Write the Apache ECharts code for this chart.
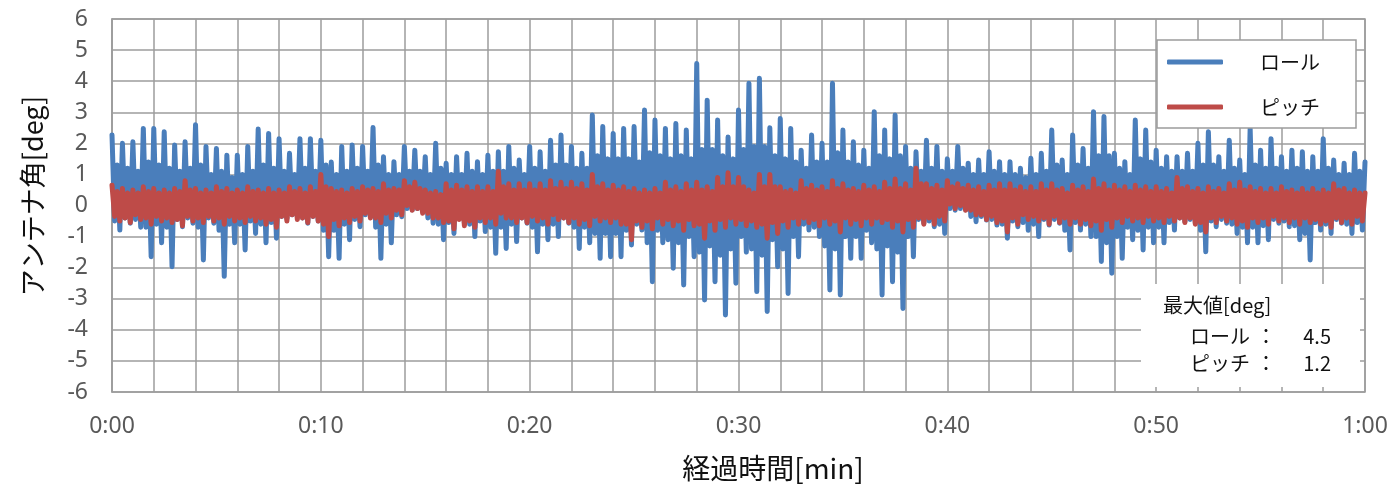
<!DOCTYPE html>
<html>
<head>
<meta charset="utf-8">
<script src="https://cdn.jsdelivr.net/npm/echarts@6/dist/echarts.min.js"></script>
<style>
html,body{margin:0;padding:0;background:#fff;}
#chart{width:1395px;height:486px;}
</style>
</head>
<body>
<div id="chart"></div>
<script>
// x axis: elapsed minutes 0..60, grid every 2 min, labels every 10 min
const xTickLabels = ['0:00','0:10','0:20','0:30','0:40','0:50','1:00'];
const seriesNames = ['ロール','ピッチ'];
const maxRoll = '4.5';
const maxPitch = '1.2';

// Readings per 0.5-minute bin:
// outer peak, inner trough, inner peak, outer trough
const rollHi = [
  2.27,2.0,2.05,2.48,2.48,2.37,1.95,2.05,2.6,1.9,1.83,1.62,1.62,1.9,2.46,2.32,2.15,1.68,2.15,2.15,
  2.1,1.4,1.9,1.95,1.9,2.51,1.57,1.41,1.9,1.78,1.57,2.0,1.36,1.57,1.68,1.41,1.62,1.73,1.9,1.46,
  1.9,1.73,2.1,2.27,1.9,1.68,2.91,2.54,2.32,2.48,2.54,3.07,2.75,2.48,2.64,2.43,4.57,3.39,2.75,2.2,
  3.07,3.93,4.09,2.5,2.8,2.48,1.78,2.27,2.0,3.93,2.43,2.05,1.78,3.02,2.43,2.91,1.9,1.73,2.1,1.9,
  1.5,1.9,1.36,1.46,1.73,1.41,1.41,1.2,1.52,1.68,2.43,1.46,2.27,1.83,3.02,2.86,1.68,1.41,2.75,2.43,
  1.78,1.57,1.57,1.68,2.0,2.37,1.57,2.1,1.46,2.48,1.78,2.15,1.57,1.78,1.73,1.57,2.15,1.46,1.36,1.68,
  1.4
];
const rollCoreHi = [
  1.3,1.2,1.1,1.4,1.3,1.2,1.1,1.2,1.3,1.0,1.1,0.9,1.0,1.1,1.3,1.2,1.1,1.0,1.2,1.1,
  1.3,1.0,1.1,1.2,1.1,1.3,1.0,1.0,1.1,1.1,1.0,1.2,1.0,1.0,1.1,1.0,1.1,1.1,1.2,1.0,
  1.2,1.1,1.3,1.3,1.2,1.2,1.6,1.5,1.5,1.5,1.4,1.7,1.6,1.5,1.6,1.5,1.8,1.8,1.6,1.5,
  1.8,1.9,1.9,1.6,1.5,1.4,1.2,1.4,1.4,1.7,1.4,1.3,1.2,1.6,1.5,1.6,1.2,1.1,1.2,1.1,
  1.1,1.2,1.0,1.0,1.1,1.0,1.0,0.9,1.0,1.1,1.3,1.0,1.3,1.2,1.6,1.6,1.2,1.0,1.5,1.4,
  1.2,1.1,1.1,1.1,1.3,1.3,1.1,1.2,1.0,1.3,1.2,1.2,1.1,1.2,1.1,1.1,1.2,1.0,1.0,1.1
];
const rollCoreLo = [
  -0.5,-0.4,-0.45,-0.7,-0.6,-0.7,-0.45,-0.4,-0.7,-0.4,-0.8,-0.6,-0.6,-0.5,-0.6,-0.55,-0.35,-0.3,-0.4,-0.35,
  -0.8,-0.8,-0.6,-0.45,-0.3,-0.7,-0.6,-0.3,-0.1,-0.1,-0.4,-0.6,-0.55,-0.4,-0.6,-0.5,-0.7,-0.7,-0.6,-0.4,
  -0.7,-0.6,-0.6,-0.4,-0.7,-0.7,-0.9,-0.9,-0.9,-0.8,-0.6,-1.2,-0.8,-1.1,-1.2,-1.0,-1.5,-1.3,-1.6,-1.4,
  -1.0,-1.4,-1.6,-1.1,-1.4,-1.0,-0.6,-0.7,-1.3,-1.4,-1.0,-1.0,-0.8,-1.4,-1.3,-1.5,-1.0,-0.45,-0.5,-0.6,
  -0.1,-0.1,-0.35,-0.35,-0.45,-0.6,-0.5,-0.55,-0.6,-0.45,-0.45,-0.8,-0.55,-0.6,-1.0,-1.2,-1.0,-0.7,-0.8,-0.7,
  -0.7,-0.55,-0.4,-0.45,-0.8,-0.5,-0.45,-0.6,-0.7,-0.7,-0.65,-0.45,-0.5,-0.65,-0.9,-0.55,-0.6,-0.45,-0.6,-0.55
];
const rollLo = [
  -0.79,-0.57,-0.7,-1.65,-1.2,-1.97,-0.68,-0.57,-1.75,-0.57,-2.28,-1.2,-1.43,-0.9,-1.2,-1.05,-0.42,-0.36,-0.57,-0.5,
  -1.65,-1.7,-1.1,-0.68,-0.36,-1.7,-1.2,-0.36,-0.14,-0.14,-0.57,-1.1,-0.9,-0.57,-1.0,-0.84,-1.54,-1.38,-1.16,-0.57,
  -1.49,-1.1,-1.0,-0.57,-1.38,-1.2,-1.7,-1.65,-1.65,-1.27,-0.79,-2.45,-1.2,-2.02,-2.56,-1.65,-3.04,-2.45,-3.52,-2.5,
  -1.5,-2.77,-3.41,-1.97,-2.83,-1.65,-0.79,-1.0,-2.72,-2.88,-1.7,-1.7,-1.2,-2.88,-2.45,-3.31,-1.65,-0.57,-0.68,-0.9,
  -0.15,-0.14,-0.52,-0.47,-0.63,-1.05,-0.68,-0.8,-1.0,-0.63,-0.57,-1.43,-0.79,-1.0,-1.8,-2.18,-1.7,-1.1,-1.43,-1.2,
  -1.2,-0.79,-0.52,-0.57,-1.49,-0.68,-0.57,-0.9,-1.2,-1.2,-1.1,-0.57,-0.68,-1.1,-1.75,-0.79,-0.9,-0.57,-0.9,-0.79
];
const pitchHi = [
  0.65,0.55,0.5,0.6,0.55,0.5,0.55,0.8,0.55,0.5,0.6,0.55,0.5,0.6,0.5,0.55,0.5,0.6,0.55,0.6,
  1.0,0.55,0.5,0.55,0.6,0.55,0.7,0.55,0.8,0.75,0.5,0.45,0.7,0.65,0.6,0.6,0.6,1.1,0.7,0.7,
  0.7,0.7,0.8,0.75,0.75,0.7,1.0,0.7,0.65,0.6,0.55,0.5,0.55,0.75,0.6,0.7,0.75,0.6,0.9,1.05,
  0.9,0.5,1.0,1.0,0.6,0.5,0.8,0.65,0.6,0.8,0.7,0.55,0.65,0.6,0.75,0.85,0.7,1.2,0.7,0.65,
  0.8,0.7,0.65,0.6,0.65,0.7,0.7,0.6,0.6,0.7,0.7,0.55,0.65,0.6,0.85,0.7,0.65,0.6,0.65,0.6,
  0.6,0.55,0.9,0.6,0.55,0.6,0.55,0.7,0.75,0.6,0.55,0.55,0.6,0.5,0.55,0.55,0.5,0.7,0.55,0.5,
  0.4
];
const pitchCoreHi = [
  0.45,0.4,0.4,0.45,0.4,0.4,0.45,0.5,0.4,0.4,0.45,0.4,0.4,0.45,0.4,0.4,0.4,0.45,0.4,0.45,
  0.6,0.45,0.4,0.45,0.5,0.45,0.5,0.5,0.6,0.55,0.4,0.35,0.5,0.5,0.45,0.45,0.45,0.6,0.5,0.5,
  0.5,0.5,0.55,0.55,0.55,0.5,0.6,0.5,0.5,0.45,0.4,0.4,0.4,0.5,0.45,0.5,0.5,0.45,0.6,0.6,
  0.6,0.4,0.6,0.6,0.45,0.4,0.55,0.5,0.45,0.55,0.5,0.45,0.5,0.45,0.55,0.55,0.5,0.7,0.55,0.5,
  0.6,0.55,0.5,0.45,0.5,0.5,0.5,0.45,0.45,0.5,0.5,0.4,0.5,0.45,0.55,0.5,0.5,0.45,0.5,0.45,
  0.45,0.4,0.55,0.45,0.4,0.45,0.4,0.5,0.5,0.45,0.4,0.4,0.45,0.4,0.4,0.4,0.4,0.5,0.4,0.4
];
const pitchCoreLo = [
  -0.35,-0.4,-0.3,-0.4,-0.35,-0.4,-0.45,-0.35,-0.4,-0.35,-0.4,-0.35,-0.4,-0.35,-0.4,-0.45,-0.35,-0.3,-0.4,-0.35,
  -0.6,-0.45,-0.4,-0.35,-0.25,-0.4,-0.25,-0.15,0.0,-0.1,-0.25,-0.4,-0.5,-0.45,-0.5,-0.4,-0.4,-0.25,-0.4,-0.4,
  -0.35,-0.4,-0.3,-0.4,-0.4,-0.45,-0.35,-0.4,-0.4,-0.6,-0.5,-0.5,-0.4,-0.45,-0.5,-0.45,-0.6,-0.5,-0.45,-0.4,
  -0.45,-0.5,-0.6,-0.55,-0.5,-0.4,-0.4,-0.45,-0.4,-0.5,-0.4,-0.45,-0.4,-0.4,-0.45,-0.5,-0.45,-0.4,-0.4,-0.35,
  0.05,0.0,-0.15,-0.3,-0.35,-0.5,-0.4,-0.3,-0.35,-0.4,-0.35,-0.4,-0.4,-0.45,-0.5,-0.45,-0.4,-0.35,-0.4,-0.35,
  -0.4,-0.35,-0.4,-0.4,-0.55,-0.4,-0.35,-0.4,-0.5,-0.4,-0.4,-0.35,-0.4,-0.4,-0.4,-0.45,-0.5,-0.4,-0.4,-0.35
];
const pitchLo = [
  -0.5,-0.55,-0.45,-0.6,-0.5,-0.55,-0.65,-0.5,-0.55,-0.5,-0.6,-0.5,-0.55,-0.5,-0.6,-0.7,-0.5,-0.45,-0.55,-0.5,
  -1.0,-0.65,-0.55,-0.5,-0.4,-0.55,-0.4,-0.3,-0.15,-0.25,-0.4,-0.55,-0.75,-0.65,-0.7,-0.55,-0.6,-0.4,-0.55,-0.55,
  -0.5,-0.6,-0.45,-0.55,-0.6,-0.65,-0.5,-0.55,-0.6,-1.1,-0.7,-0.75,-0.6,-0.65,-0.8,-0.65,-1.05,-0.8,-0.7,-0.6,
  -0.65,-0.7,-1.05,-0.9,-0.7,-0.6,-0.55,-0.65,-0.6,-0.85,-0.6,-0.65,-0.6,-0.55,-0.7,-0.85,-0.7,-0.6,-0.6,-0.5,
  -0.1,-0.15,-0.3,-0.45,-0.55,-0.85,-0.6,-0.45,-0.5,-0.6,-0.55,-0.6,-0.6,-0.65,-0.8,-0.7,-0.55,-0.5,-0.55,-0.5,
  -0.55,-0.5,-0.55,-0.6,-0.85,-0.55,-0.5,-0.6,-0.7,-0.55,-0.6,-0.5,-0.55,-0.6,-0.55,-0.6,-0.7,-0.55,-0.6,-0.5
];
const BIN = 0.5; // minutes per bin

function build(hi, coreLo, coreHi, lo) {
  const out = [];
  const q = BIN / 4;
  for (let k = 0; k < lo.length; k++) {
    const t = k * BIN;
    out.push([t, hi[k]]);
    out.push([t + q, coreLo[k]]);
    out.push([t + 2 * q, coreHi[k]]);
    out.push([t + 3 * q, lo[k]]);
  }
  out.push([lo.length * BIN, hi[lo.length]]);
  return out;
}

const BLUE = '#4A7EBB';
const RED = '#BE4B48';
const GRID = '#9c9c9c';
const TICK_FONT = 'Noto Sans';
const JP_FONT = '"Noto Sans CJK JP"';
const LINE_W = 5;

const chart = echarts.init(document.getElementById('chart'), null, {renderer: 'canvas'});
chart.setOption({
  animation: false,
  backgroundColor: '#fff',
  grid: {left: 112, right: 30, top: 19, bottom: 94, show: true, borderColor: GRID, borderWidth: 1.5, backgroundColor: '#fff'},
  xAxis: {
    type: 'value', min: 0, max: 60, interval: 2,
    axisLine: {show: true, lineStyle: {color: GRID, width: 1.5}},
    axisTick: {show: false},
    splitLine: {show: true, lineStyle: {color: GRID, width: 1.5}},
    axisLabel: {
      fontFamily: TICK_FONT, fontSize: 23, color: '#595959', margin: 23,
      formatter: v => (v % 10 === 0 ? xTickLabels[v / 10] : '')
    }
  },
  yAxis: {
    type: 'value', min: -6, max: 6, interval: 1,
    axisLine: {show: true, lineStyle: {color: GRID, width: 1.5}},
    axisTick: {show: false},
    splitLine: {show: true, lineStyle: {color: GRID, width: 1.5}},
    axisLabel: {fontFamily: TICK_FONT, fontSize: 23, color: '#595959', margin: 24}
  },
  legend: {
    orient: 'vertical', left: 1157, top: 40,
    padding: [10, 36, 9, 10], itemGap: 21,
    backgroundColor: '#fff', borderColor: GRID, borderWidth: 1.5, borderRadius: 0,
    itemWidth: 56, itemHeight: 5, icon: 'roundRect',
    textStyle: {fontFamily: JP_FONT, fontSize: 20, color: '#111', lineHeight: 24, padding: [0, 0, 0, 32]},
    data: seriesNames
  },
  series: [
    {name: seriesNames[0], type: 'line', data: build(rollHi, rollCoreLo, rollCoreHi, rollLo), showSymbol: false, symbol: 'none',
     lineStyle: {color: BLUE, width: LINE_W, cap: 'round', join: 'round'}, itemStyle: {color: BLUE}, z: 3},
    {name: seriesNames[1], type: 'line', data: build(pitchHi, pitchCoreLo, pitchCoreHi, pitchLo), showSymbol: false, symbol: 'none',
     lineStyle: {color: RED, width: LINE_W, cap: 'round', join: 'round'}, itemStyle: {color: RED}, z: 4}
  ],
  graphic: [
    {type: 'rect', shape: {x: 1141, y: 284, width: 219, height: 103}, style: {fill: '#fff'}, z: 50},
    {type: 'text', x: 1163, y: 305, z: 51, style: {text: '最大値[deg]', font: '20px ' + JP_FONT, fill: '#111', verticalAlign: 'middle'}},
    {type: 'text', x: 1190, y: 336, z: 51, style: {text: seriesNames[0], font: '20px ' + JP_FONT, fill: '#111', verticalAlign: 'middle'}},
    {type: 'text', x: 1256, y: 336, z: 51, style: {text: '：', font: '20px ' + JP_FONT, fill: '#111', verticalAlign: 'middle'}},
    {type: 'text', x: 1331, y: 336, z: 51, style: {text: maxRoll, font: '20px ' + JP_FONT, fill: '#111', align: 'right', verticalAlign: 'middle'}},
    {type: 'text', x: 1190, y: 363, z: 51, style: {text: seriesNames[1], font: '20px ' + JP_FONT, fill: '#111', verticalAlign: 'middle'}},
    {type: 'text', x: 1256, y: 363, z: 51, style: {text: '：', font: '20px ' + JP_FONT, fill: '#111', verticalAlign: 'middle'}},
    {type: 'text', x: 1331, y: 363, z: 51, style: {text: maxPitch, font: '20px ' + JP_FONT, fill: '#111', align: 'right', verticalAlign: 'middle'}},
    {type: 'text', x: 33, y: 196, rotation: Math.PI / 2, z: 51, style: {text: 'アンテナ角[deg]', font: '27px ' + JP_FONT, fill: '#111', align: 'center', verticalAlign: 'middle'}},
    {type: 'text', x: 773, y: 468, z: 51, style: {text: '経過時間[min]', font: '28px ' + JP_FONT, fill: '#111', align: 'center', verticalAlign: 'middle'}}
  ]
});
</script>
</body>
</html>
